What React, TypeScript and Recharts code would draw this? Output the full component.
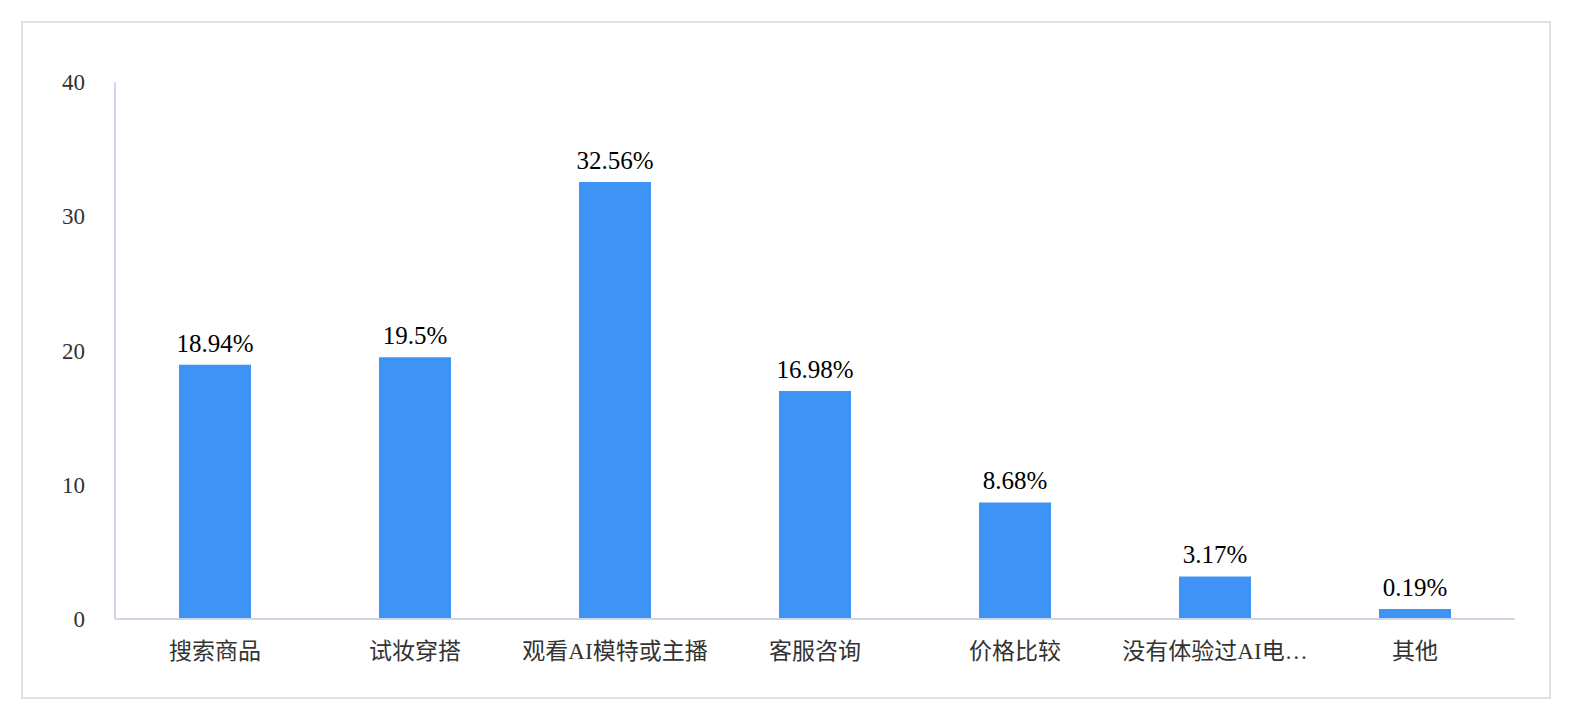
import React from 'react';
import { BarChart, Bar, XAxis, YAxis, LabelList } from 'recharts';

const categories = ['搜索商品', '试妆穿搭', '观看AI模特或主播', '客服咨询', '价格比较', '没有体验过AI电…', '其他'];
const shares = [18.94, 19.5, 32.56, 16.98, 8.68, 3.17, 0.19];
const yTicks = [0, 10, 20, 30, 40];

const data = categories.map((name, i) => ({ name, value: shares[i] }));

const font = '"Liberation Serif", "Times New Roman", "Noto Sans CJK SC", serif';
const axisColor = '#cfd6e7';

// value label drawn by hand so the serif face sticks
const ValueLabel = (props: any) => {
  const { x, y, width, value } = props;
  return (
    <text
      x={Number(x) + Number(width) / 2}
      y={Number(y) - 13}
      textAnchor="middle"
      fill="#000"
      fontSize={25}
      fontFamily={font}
    >
      {`${value}%`}
    </text>
  );
};

export default function App() {
  return (
    <div
      style={{
        position: 'absolute',
        left: 21,
        top: 21,
        width: 1530,
        height: 678,
        boxSizing: 'border-box',
        border: '2px solid #e1e1e1',
        background: '#fff',
        fontFamily: font,
      }}
    >
      <BarChart
        width={1526}
        height={674}
        data={data}
        margin={{ top: 59, right: 34, left: 0, bottom: 38 }}
      >
        <XAxis
          dataKey="name"
          interval={0}
          tickLine={false}
          height={40}
          tickMargin={18}
          axisLine={{ stroke: axisColor, strokeWidth: 2 }}
          tick={{ fill: '#333', fontSize: 23, fontFamily: font }}
        />
        <YAxis
          domain={[0, 40]}
          ticks={yTicks}
          width={92}
          tickLine={false}
          tickMargin={24}
          axisLine={{ stroke: axisColor, strokeWidth: 2 }}
          tick={{ fill: '#333', fontSize: 23, fontFamily: font }}
        />
        <Bar dataKey="value" fill="#3f93f5" barSize={72} minPointSize={10} isAnimationActive={false}>
          <LabelList dataKey="value" content={ValueLabel} />
        </Bar>
      </BarChart>
    </div>
  );
}
